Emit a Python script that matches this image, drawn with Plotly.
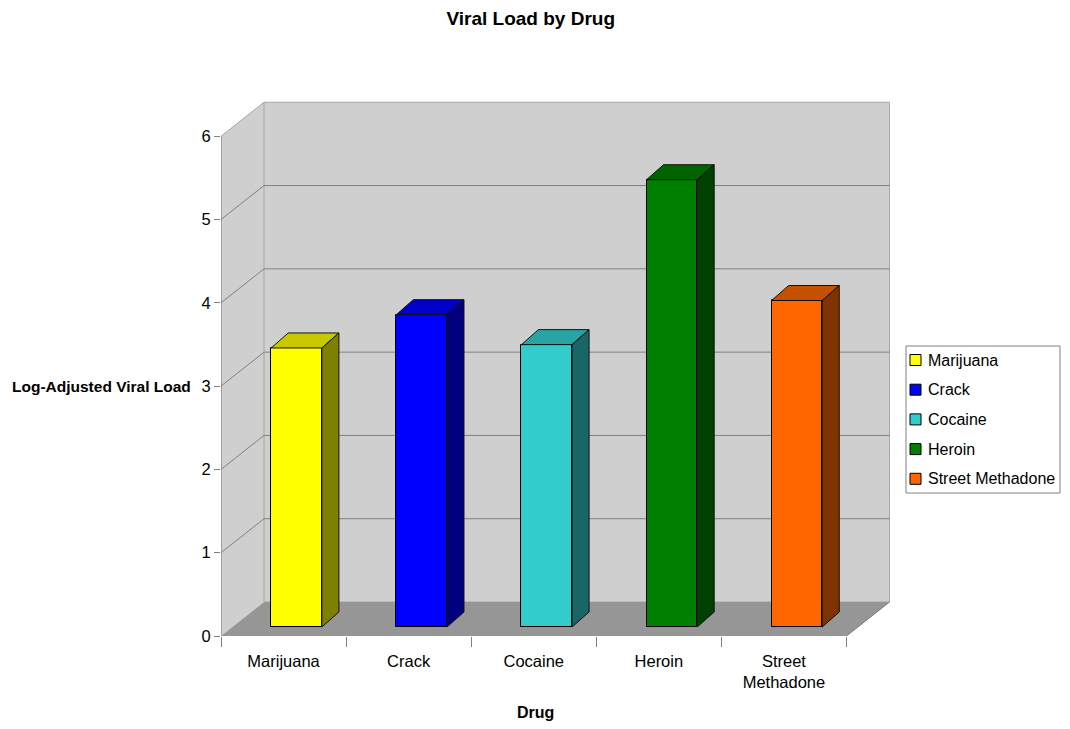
import plotly.graph_objects as go

# ---- data ----
drugs = ["Marijuana", "Crack", "Cocaine", "Heroin", "Street Methadone"]
tick_text = ["Marijuana", "Crack", "Cocaine", "Heroin", "Street<br>Methadone"]
viral_load = [3.35, 3.75, 3.39, 5.37, 3.92]
y_ticks = [0, 1, 2, 3, 4, 5, 6]

front_colors = ["#ffff00", "#0000ff", "#33cccc", "#008000", "#ff6600"]
top_colors = ["#c8c800", "#0000c8", "#29a3a3", "#006400", "#c45000"]
side_colors = ["#808000", "#000080", "#1a6666", "#004000", "#803300"]

# ---- oblique 3D geometry, in (category, value) units ----
DEPTH = (0.344, 0.408)        # depth of the floor / walls
BAR_OFFSET = (0.104, 0.108)   # front face of each bar behind the front plane
BAR_DEPTH = (0.136, 0.180)    # depth of each bar
BAR_WIDTH = 0.405
n = len(drugs)
y_max = y_ticks[-1]
dx, dy = DEPTH
bx, by = BAR_DEPTH

WALL = "#cfcfcf"
FLOOR = "#969696"
GRID = "#808080"
EDGE = "#a6a6a6"
FONT = "Liberation Sans"

# plot area in pixels (used to place the boxed legend in paper units)
W, H = 1070, 729
M_L, M_R, M_T, M_B = 221, 179, 100, 93
PW, PH = W - M_L - M_R, H - M_T - M_B


def px_x(p):
    return (p - M_L) / PW


def px_y(p):
    return (H - M_B - p) / PH


def path(points):
    return "M " + " L ".join(f"{x},{y}" for x, y in points) + " Z"


shapes = []
# left wall
shapes.append(dict(type="path", layer="below", line=dict(width=0), fillcolor=WALL,
                   path=path([(0, 0), (dx, dy), (dx, y_max + dy), (0, y_max)])))
# back wall
shapes.append(dict(type="rect", layer="below", x0=dx, x1=n + dx, y0=dy, y1=y_max + dy,
                   fillcolor=WALL, line=dict(color=EDGE, width=1)))
# gridlines on both walls
for v in y_ticks[1:-1]:
    shapes.append(dict(type="line", layer="below", x0=dx, x1=n + dx, y0=v + dy, y1=v + dy,
                       line=dict(color=GRID, width=1)))
    shapes.append(dict(type="line", layer="below", x0=0, x1=dx, y0=v, y1=v + dy,
                       line=dict(color=GRID, width=1)))
shapes.append(dict(type="line", layer="below", x0=0, x1=dx, y0=y_max, y1=y_max + dy,
                   line=dict(color=EDGE, width=1)))
# floor
shapes.append(dict(type="path", layer="below", fillcolor=FLOOR, line=dict(width=0),
                   path=path([(0, 0), (n, 0), (n + dx, dy), (dx, dy)])))
shapes.append(dict(type="line", layer="below", x0=n, x1=n + dx, y0=0, y1=dy,
                   line=dict(color="#7a7a7a", width=1)))
# front value axis line
shapes.append(dict(type="line", layer="below", x0=0, x1=0, y0=0, y1=y_max,
                   line=dict(color="#6e6e6e", width=1)))

fig = go.Figure()

base = BAR_OFFSET[1]
for i, (name, v) in enumerate(zip(drugs, viral_load)):
    xc = i + 0.5 + BAR_OFFSET[0]
    xl, xr = xc - BAR_WIDTH / 2, xc + BAR_WIDTH / 2
    top = base + v
    fig.add_trace(go.Bar(
        x=[xc], y=[v], base=[base], width=[BAR_WIDTH], name=name,
        showlegend=False,
        marker=dict(color=front_colors[i], line=dict(color="#000000", width=1)),
        hoverinfo="skip",
    ))
    # top face
    shapes.append(dict(type="path", layer="above", fillcolor=top_colors[i],
                       line=dict(color="#111111", width=1),
                       path=path([(xl, top), (xr, top), (xr + bx, top + by), (xl + bx, top + by)])))
    # side face
    shapes.append(dict(type="path", layer="above", fillcolor=side_colors[i],
                       line=dict(color="#111111", width=1),
                       path=path([(xr, base), (xr + bx, base + by), (xr + bx, top + by), (xr, top)])))

# boxed legend: frame, colour swatches and labels
annotations = []
LEG_X0, LEG_X1, LEG_Y0, LEG_Y1 = 906, 1060, 346, 493
ROW0, ROW_STEP, SW = 360, 29.7, 11
shapes.append(dict(type="rect", xref="paper", yref="paper", layer="above",
                   x0=px_x(LEG_X0), x1=px_x(LEG_X1), y0=px_y(LEG_Y1), y1=px_y(LEG_Y0),
                   fillcolor="white", line=dict(color="#808080", width=1)))
for i, name in enumerate(drugs):
    cy = ROW0 + i * ROW_STEP
    shapes.append(dict(type="rect", xref="paper", yref="paper", layer="above",
                       x0=px_x(910), x1=px_x(910 + SW),
                       y0=px_y(cy + SW / 2), y1=px_y(cy - SW / 2),
                       fillcolor=front_colors[i], line=dict(color="#000000", width=1)))
    annotations.append(dict(text=name, xref="paper", yref="paper",
                            x=px_x(926), y=px_y(cy), xanchor="left", yanchor="middle",
                            showarrow=False, font=dict(family=FONT, size=16)))

annotations += [
    dict(text="Log-Adjusted Viral Load", xref="paper", yref="y", x=px_x(193), y=3,
         xanchor="right", yanchor="middle", showarrow=False,
         font=dict(family=FONT, size=15.5, weight="bold")),
    dict(text="Drug", xref="paper", yref="paper", x=px_x(535), y=px_y(713),
         xanchor="center", yanchor="middle", showarrow=False,
         font=dict(family=FONT, size=16, weight="bold")),
]

fig.update_layout(
    width=W, height=H,
    margin=dict(l=M_L, r=M_R, t=M_T, b=M_B, autoexpand=False),
    paper_bgcolor="white", plot_bgcolor="white",
    font=dict(family=FONT, size=16, color="#000000"),
    title=dict(text="Viral Load by Drug", x=0.496, xref="container", xanchor="center",
               y=0.975, yref="container", yanchor="middle",
               font=dict(family=FONT, size=19, weight="bold")),
    shapes=shapes,
    annotations=annotations,
    showlegend=False,
    bargap=0,
    xaxis=dict(type="linear", range=[0, n + 0.356], showgrid=False, zeroline=False,
               showline=False, tickmode="array",
               tickvals=[i + 0.5 for i in range(n)], ticktext=tick_text,
               ticks="", ticklabelstandoff=13, tickfont=dict(size=16.5),
               minor=dict(tickmode="linear", tick0=0, dtick=1, ticks="outside",
                          ticklen=10, tickcolor="#808080", showgrid=False)),
    yaxis=dict(range=[0, 6.435], showgrid=False, zeroline=False, showline=False,
               tickmode="array", tickvals=y_ticks, ticks="outside", ticklen=6,
               tickcolor="#808080", tickfont=dict(size=16.5)),
)

fig.write_html("out.html")
